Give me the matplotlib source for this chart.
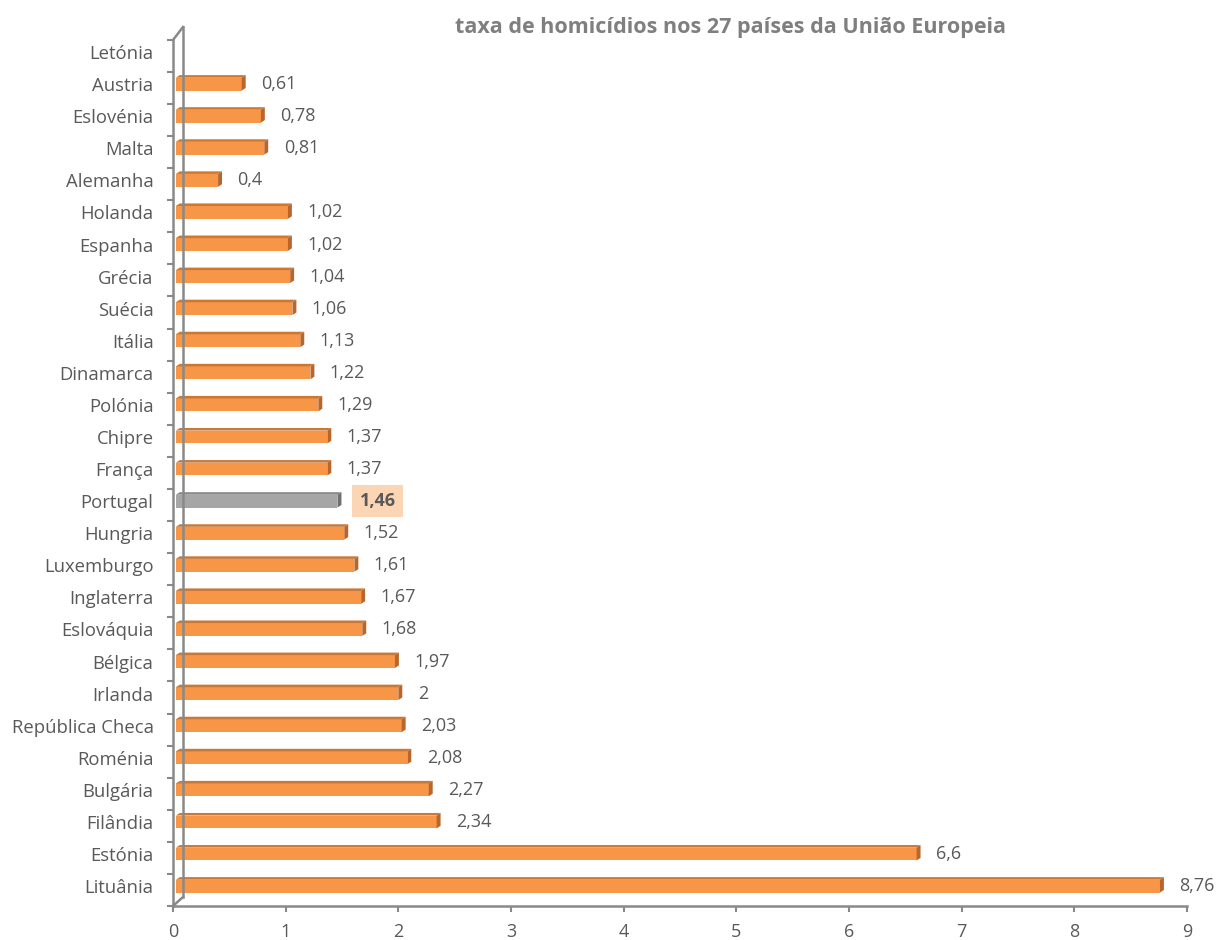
import matplotlib.pyplot as plt
from matplotlib.patches import Polygon
from matplotlib.lines import Line2D
import numpy as np

# paises de cima para baixo (como no grafico original)
paises = ['Letónia', 'Austria', 'Eslovénia', 'Malta', 'Alemanha', 'Holanda',
          'Espanha', 'Grécia', 'Suécia', 'Itália', 'Dinamarca', 'Polónia',
          'Chipre', 'França', 'Portugal', 'Hungria', 'Luxemburgo', 'Inglaterra',
          'Eslováquia', 'Bélgica', 'Irlanda', 'República Checa', 'Roménia',
          'Bulgária', 'Filândia', 'Estónia', 'Lituânia']
taxas = [np.nan, 0.61, 0.78, 0.81, 0.4, 1.02, 1.02, 1.04, 1.06, 1.13, 1.22,
         1.29, 1.37, 1.37, 1.46, 1.52, 1.61, 1.67, 1.68, 1.97, 2, 2.03, 2.08,
         2.27, 2.34, 6.6, 8.76]
rotulos = ['', '0,61', '0,78', '0,81', '0,4', '1,02', '1,02', '1,04', '1,06',
           '1,13', '1,22', '1,29', '1,37', '1,37', '1,46', '1,52', '1,61',
           '1,67', '1,68', '1,97', '2', '2,03', '2,08', '2,27', '2,34', '6,6',
           '8,76']
destaque = 'Portugal'
titulo = 'taxa de homicídios nos 27 países da União Europeia'

cinza_txt = '#595959'
cinza_eixo = '#898989'
laranja = '#F79646'
laranja_esc = '#B8662C'
laranja_topo = '#C97836'
cinza_bar = '#A6A6A6'
cinza_bar_esc = '#6F6F6F'
cinza_bar_topo = '#8A8A8A'

plt.rcParams['font.family'] = ['Open Sans', 'DejaVu Sans']

fig = plt.figure(figsize=(12.17, 9.4), dpi=100)
ax = fig.add_axes([173/1217, 1-906/940, 1014/1217, 879/940])

n = len(paises)
ypos = np.arange(n)[::-1]   # Letónia em cima
h = 0.40   # altura da face frontal
dx = 0.035  # profundidade 3D em x (dados)
dy = 0.08   # profundidade 3D em y
x0 = 0.025  # barras comecam um pouco depois do eixo

for y, v, p, r in zip(ypos, taxas, paises, rotulos):
    if np.isnan(v):
        continue
    cor = cinza_bar if p == destaque else laranja
    cor_esc = cinza_bar_esc if p == destaque else laranja_esc
    cor_topo = cinza_bar_topo if p == destaque else laranja_topo
    ax.barh(y, v - x0, left=x0, height=h, color=cor, edgecolor='none', zorder=3)
    # face de cima
    ax.add_patch(Polygon([(x0, y+h/2), (v, y+h/2), (v+dx, y+h/2+dy), (x0+dx, y+h/2+dy)],
                         closed=True, facecolor=cor_topo, edgecolor='none', zorder=3))
    # face lateral
    ax.add_patch(Polygon([(v, y-h/2), (v, y+h/2), (v+dx, y+h/2+dy), (v+dx, y-h/2+dy)],
                         closed=True, facecolor=cor_esc, edgecolor='none', zorder=3))
    if p == destaque:
        ax.annotate(r, (v, y), xytext=(16, 0), textcoords='offset points',
                    ha='left', va='center', fontsize=13, color=cinza_txt,
                    fontweight='bold',
                    bbox=dict(boxstyle='square,pad=0.4', facecolor='#FCD5B5',
                              edgecolor='none'))
    else:
        ax.annotate(r, (v, y), xytext=(14, 0), textcoords='offset points',
                    ha='left', va='center', fontsize=13, color=cinza_txt)

ax.set_xlim(0, 9)
ax.set_ylim(-0.62, 26.78)
ax.set_xticks(range(10))
ax.set_yticks(ypos)
ax.set_yticklabels(paises)
ax.set_yticks(np.arange(28) - 0.62, minor=True)
ax.tick_params(axis='y', which='major', length=0, pad=14, labelsize=13.3, labelcolor=cinza_txt)
ax.tick_params(axis='y', which='minor', length=4.5, width=1.5, color=cinza_eixo)
ax.tick_params(axis='x', length=4, width=1.5, color=cinza_eixo, labelsize=13,
               labelcolor=cinza_txt, pad=8)

for s in ['top', 'right', 'left']:
    ax.spines[s].set_visible(False)
ax.spines['bottom'].set_color(cinza_eixo)
ax.spines['bottom'].set_linewidth(1.8)

# eixo da frente e parede de fundo (efeito 3D)
fx = 10/1014
fy = 9/879
topo_frente = (906-40)/879
linhas = [([0, 0], [0, topo_frente]),
          ([fx, fx], [fy, 1.0]),
          ([0, fx], [0, fy]),
          ([0, fx], [topo_frente, 1.0])]
for xs, ys in linhas:
    ax.add_line(Line2D(xs, ys, transform=ax.transAxes, color=cinza_eixo,
                       linewidth=1.8, clip_on=False, zorder=4))

fig.text(0.60, 0.971, titulo, ha='center', va='center', fontsize=15.5,
         fontweight='bold', color='#7F7F7F')

fig.savefig('out.png', dpi=100)
